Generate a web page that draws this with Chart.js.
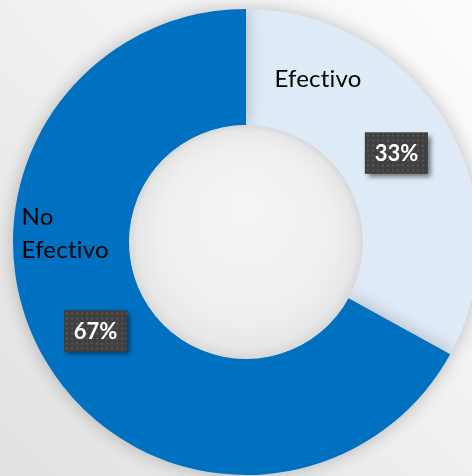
<!DOCTYPE html>
<html lang="es">

<head>
    <meta charset="UTF-8">
    <title>Efectivo / No Efectivo</title>
    <style>
        html, body {
            margin: 0;
            width: 472px;
            height: 476px;
            overflow: hidden;
            background: linear-gradient(to bottom left, #fcfcfc 0%, #f1f1f1 45%, #e1e1e1 100%);
        }
        #wrap {
            position: absolute;
            left: 0;
            top: 0;
            width: 492px;
            height: 484px;
        }
    </style>
</head>

<body>
    <div id="wrap">
        <canvas id="dona"></canvas>
    </div>
</body>
<script src="https://cdn.jsdelivr.net/npm/chart.js"></script>
<script>
    // datos del grafico
    const categorias = ['Efectivo', 'No Efectivo'];
    const valores = [33, 67];
    const etiquetas = ['33%', '67%'];
    const colores = ['#DEEAF6', '#0070C0'];

    // patron de puntos para las cajas de porcentaje
    const patronPuntos = (ctx) => {
        const c = document.createElement('canvas');
        c.width = 5;
        c.height = 5;
        const p = c.getContext('2d');
        p.fillStyle = '#404040';
        p.fillRect(0, 0, 5, 5);
        p.fillStyle = '#565656';
        p.fillRect(2, 2, 2, 2);
        return ctx.createPattern(c, 'repeat');
    };

    // sombra del anillo y relleno del hueco
    const sombraAnillo = {
        id: 'sombraAnillo',
        beforeDatasetsDraw(chart) {
            const ctx = chart.ctx;
            ctx.save();
            ctx.shadowColor = 'rgba(0,0,0,0.24)';
            ctx.shadowBlur = 18;
        },
        afterDatasetsDraw(chart) {
            const ctx = chart.ctx;
            ctx.restore();
            const arc = chart.getDatasetMeta(0).data[0];
            const { x, y, innerRadius } = arc.getProps(['x', 'y', 'innerRadius'], true);
            const g = ctx.createRadialGradient(x, y - innerRadius * 0.35, 0, x, y, innerRadius);
            g.addColorStop(0, '#f5f5f5');
            g.addColorStop(0.75, '#efefef');
            g.addColorStop(0.93, '#e7e7e7');
            g.addColorStop(1, '#d9d9d9');
            ctx.save();
            ctx.beginPath();
            ctx.arc(x, y, innerRadius + 0.5, 0, Math.PI * 2);
            ctx.fillStyle = g;
            ctx.fill();
            ctx.restore();
        }
    };

    // etiquetas: nombre de la categoria y caja con el porcentaje
    const etiquetasDona = {
        id: 'etiquetasDona',
        afterDraw(chart, args, opts) {
            const ctx = chart.ctx;
            const meta = chart.getDatasetMeta(0);
            const fondo = patronPuntos(ctx);
            meta.data.forEach((arc, i) => {
                const pos = arc.tooltipPosition(true);

                // nombre (con un poco de espaciado para evitar la ligadura "ti")
                ctx.save();
                ctx.fillStyle = '#000';
                ctx.font = '24px Lato';
                ctx.letterSpacing = '0.2px';
                ctx.textAlign = 'left';
                ctx.textBaseline = 'alphabetic';
                const desp = opts.nombres[i];
                desp.lineas.forEach((linea, j) => {
                    ctx.fillText(linea, pos.x + desp.dx, pos.y + desp.dy + j * 33);
                });
                ctx.restore();

                // caja
                const w = 63, h = 41;
                ctx.save();
                ctx.shadowColor = 'rgba(0,0,0,0.55)';
                ctx.shadowBlur = 5;
                ctx.shadowOffsetX = 3;
                ctx.shadowOffsetY = 3;
                ctx.fillStyle = '#404040';
                ctx.fillRect(pos.x - w / 2, pos.y - h / 2, w, h);
                ctx.restore();
                ctx.save();
                ctx.translate(pos.x - w / 2, pos.y - h / 2);
                ctx.fillStyle = fondo;
                ctx.fillRect(0, 0, w, h);
                ctx.restore();

                ctx.save();
                ctx.fillStyle = '#fff';
                ctx.font = 'bold 22px Lato';
                ctx.textAlign = 'center';
                ctx.textBaseline = 'middle';
                ctx.fillText(etiquetas[i], pos.x, pos.y + 1);
                ctx.restore();
            });
        }
    };

    new Chart(document.getElementById('dona'), {
        type: 'doughnut',
        data: {
            labels: categorias,
            datasets: [{
                data: valores,
                backgroundColor: colores,
                borderWidth: 0,
                hoverOffset: 0
            }]
        },
        options: {
            responsive: true,
            maintainAspectRatio: false,
            animation: false,
            events: [],
            cutout: '50%',
            layout: {
                padding: { left: 13, right: 13, top: 9, bottom: 9 }
            },
            plugins: {
                legend: { display: false },
                tooltip: { enabled: false },
                etiquetasDona: {
                    nombres: [
                        { lineas: ['Efectivo'], dx: -122, dy: -66 },
                        { lineas: ['No', 'Efectivo'], dx: -74, dy: -106 }
                    ]
                }
            }
        },
        plugins: [sombraAnillo, etiquetasDona]
    });
</script>

</html>
